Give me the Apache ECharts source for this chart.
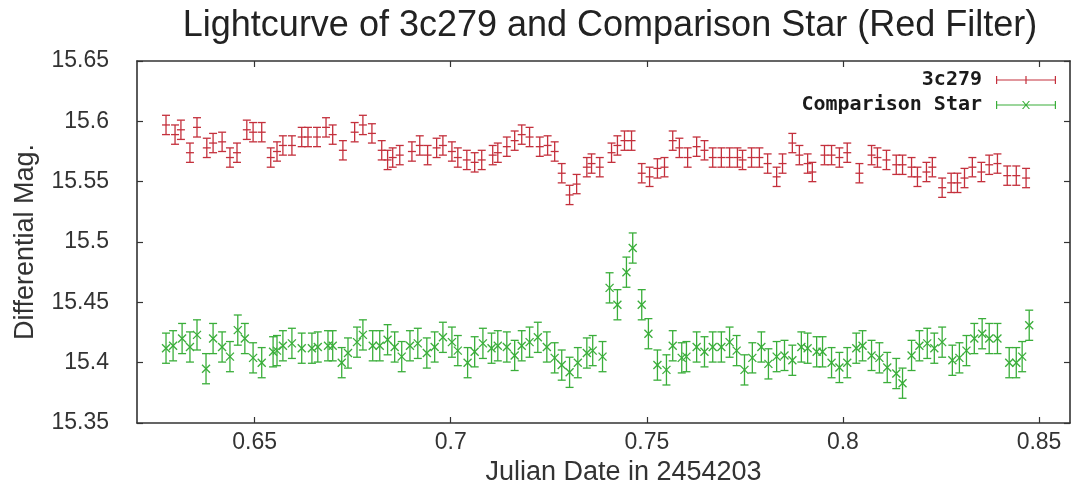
<!DOCTYPE html>
<html>
<head>
<meta charset="utf-8">
<title>Lightcurve of 3c279</title>
<script src="https://cdn.jsdelivr.net/npm/echarts@6/dist/echarts.min.js"></script>
<style>
  html, body { margin: 0; padding: 0; background: #fff; }
  #chart { width: 1072px; height: 492px; }
</style>
</head>
<body>
<div id="chart"></div>
<script>
// Julian date offsets (JD - 2454203) and differential magnitudes, 3c279
const blazarJD = [
  0.6274, 0.6297, 0.6312, 0.6335, 0.6353, 0.6378, 0.6394, 0.6417, 0.6437, 0.6455,
  0.6480, 0.6496, 0.6518, 0.6541, 0.6557, 0.6572, 0.6595, 0.6620, 0.6636, 0.6659,
  0.6682, 0.6699, 0.6725, 0.6755, 0.6776, 0.6799, 0.6824, 0.6839, 0.6852, 0.6870,
  0.6901, 0.6921, 0.6941, 0.6964, 0.6980, 0.7003, 0.7018, 0.7041, 0.7061, 0.7079,
  0.7107, 0.7120, 0.7143, 0.7163, 0.7181, 0.7201, 0.7227, 0.7247, 0.7265, 0.7283,
  0.7303, 0.7321, 0.7347, 0.7359, 0.7380, 0.7410, 0.7425, 0.7443, 0.7461, 0.7487,
  0.7507, 0.7527, 0.7545, 0.7566, 0.7583, 0.7604, 0.7627, 0.7647, 0.7668, 0.7690,
  0.7711, 0.7731, 0.7744, 0.7767, 0.7787, 0.7808, 0.7831, 0.7846, 0.7871, 0.7889,
  0.7910, 0.7922, 0.7953, 0.7971, 0.7991, 0.8011, 0.8042, 0.8073, 0.8088, 0.8111,
  0.8136, 0.8152, 0.8175, 0.8190, 0.8213, 0.8228, 0.8253, 0.8276, 0.8292, 0.8310,
  0.8330, 0.8353, 0.8373, 0.8394, 0.8419, 0.8442, 0.8467
];
const blazarMag = [
  15.597, 15.589, 15.593, 15.574, 15.595, 15.578, 15.582, 15.583, 15.570, 15.574,
  15.593, 15.591, 15.591, 15.570, 15.575, 15.580, 15.580, 15.587, 15.587, 15.587,
  15.595, 15.589, 15.576, 15.591, 15.597, 15.590, 15.576, 15.568, 15.570, 15.572,
  15.575, 15.580, 15.572, 15.578, 15.580, 15.575, 15.570, 15.568, 15.566, 15.568,
  15.572, 15.574, 15.579, 15.584, 15.589, 15.587, 15.579, 15.580, 15.575, 15.557,
  15.539, 15.548, 15.562, 15.565, 15.562, 15.574, 15.580, 15.584, 15.584, 15.557,
  15.554, 15.561, 15.562, 15.584, 15.578, 15.570, 15.579, 15.576, 15.570, 15.570,
  15.570, 15.570, 15.568, 15.570, 15.570, 15.565, 15.554, 15.565, 15.582, 15.572,
  15.565, 15.558, 15.572, 15.572, 15.570, 15.574, 15.557, 15.572, 15.570, 15.568,
  15.564, 15.564, 15.562, 15.554, 15.558, 15.562, 15.545, 15.549, 15.549, 15.553,
  15.562, 15.558, 15.564, 15.565, 15.555, 15.555, 15.553
];
const blazarErr = 0.008;

// Comparison star
const compJD = [
  0.6274, 0.6292, 0.6315, 0.6335, 0.6353, 0.6376, 0.6394, 0.6417, 0.6437, 0.6457,
  0.6475, 0.6496, 0.6518, 0.6547, 0.6557, 0.6572, 0.6595, 0.6620, 0.6646, 0.6661,
  0.6687, 0.6699, 0.6722, 0.6738, 0.6761, 0.6776, 0.6801, 0.6819, 0.6839, 0.6857,
  0.6875, 0.6896, 0.6916, 0.6939, 0.6959, 0.6980, 0.7003, 0.7018, 0.7043, 0.7061,
  0.7082, 0.7104, 0.7120, 0.7143, 0.7163, 0.7181, 0.7201, 0.7222, 0.7245, 0.7265,
  0.7283, 0.7303, 0.7324, 0.7347, 0.7362, 0.7387, 0.7405, 0.7425, 0.7448, 0.7464,
  0.7487, 0.7504, 0.7527, 0.7550, 0.7566, 0.7589, 0.7601, 0.7627, 0.7647, 0.7668,
  0.7690, 0.7711, 0.7729, 0.7749, 0.7769, 0.7792, 0.7810, 0.7831, 0.7851, 0.7871,
  0.7894, 0.7910, 0.7933, 0.7948, 0.7971, 0.7991, 0.8011, 0.8034, 0.8050, 0.8073,
  0.8093, 0.8113, 0.8136, 0.8152, 0.8175, 0.8195, 0.8215, 0.8233, 0.8253, 0.8279,
  0.8297, 0.8315, 0.8335, 0.8355, 0.8373, 0.8394, 0.8424, 0.8442, 0.8457, 0.8475
];
const compMag = [
  15.412, 15.414, 15.420, 15.413, 15.423, 15.395, 15.420, 15.413, 15.405, 15.427,
  15.420, 15.404, 15.400, 15.409, 15.410, 15.414, 15.416, 15.412, 15.412, 15.413,
  15.414, 15.414, 15.400, 15.408, 15.417, 15.423, 15.414, 15.414, 15.419, 15.413,
  15.405, 15.414, 15.416, 15.408, 15.413, 15.421, 15.417, 15.410, 15.400, 15.409,
  15.416, 15.412, 15.414, 15.413, 15.406, 15.414, 15.417, 15.421, 15.413, 15.404,
  15.398, 15.392, 15.400, 15.408, 15.410, 15.405, 15.462, 15.448, 15.475, 15.495,
  15.448, 15.424, 15.398, 15.394, 15.414, 15.404, 15.405, 15.413, 15.409, 15.413,
  15.413, 15.417, 15.410, 15.394, 15.404, 15.413, 15.399, 15.405, 15.406, 15.402,
  15.413, 15.412, 15.409, 15.409, 15.400, 15.396, 15.400, 15.412, 15.414, 15.406,
  15.404, 15.396, 15.391, 15.383, 15.406, 15.414, 15.416, 15.412, 15.417, 15.402,
  15.404, 15.410, 15.420, 15.424, 15.420, 15.420, 15.400, 15.400, 15.405, 15.431
];
const compErr = 0.0125;

// Axis ticks
const xTickValues = [0.65, 0.7, 0.75, 0.8, 0.85];
const yMin = 15.35, yMax = 15.65, yStep = 0.05;

const RED = '#c4303c';
const GREEN = '#3aae3a';

function pairs(xs, ys) {
  return xs.map((x, i) => [x, ys[i]]);
}

// y-error bars with caps plus a point marker ('+' or 'x')
function errorBarRenderer(err, marker) {
  return function (params, api) {
    const x = api.value(0), y = api.value(1);
    const c = api.coord([x, y]);
    const hi = api.coord([x, y + err]);
    const lo = api.coord([x, y - err]);
    const cap = 4, m = 4;
    const style = { stroke: api.visual('color'), lineWidth: 1.3, fill: null };
    const seg = (x1, y1, x2, y2) => ({ type: 'line', shape: { x1, y1, x2, y2 }, style });
    const kids = [
      seg(c[0], hi[1], c[0], lo[1]),
      seg(c[0] - cap, hi[1], c[0] + cap, hi[1]),
      seg(c[0] - cap, lo[1], c[0] + cap, lo[1])
    ];
    if (marker === 'plus') {
      kids.push(seg(c[0] - m, c[1], c[0] + m, c[1]));
    } else {
      kids.push(seg(c[0] - m, c[1] - m, c[0] + m, c[1] + m));
      kids.push(seg(c[0] - m, c[1] + m, c[0] + m, c[1] - m));
    }
    return { type: 'group', children: kids };
  };
}

const plusIcon = 'path://M0,3.4h60v1.2h-60z M0,0h1.2v8h-1.2z M58.8,0h1.2v8h-1.2z M29.4,0h1.2v8h-1.2z';
const crossIcon = 'path://M0,3.4h60v1.2h-60z M0,0h1.2v8h-1.2z M58.8,0h1.2v8h-1.2z M26,0L27.3,0L34,8L32.7,8z M32.7,0L34,0L27.3,8L26,8z';

const frame = { show: true, lineStyle: { color: '#333', width: 1.6 } };
const tickStyle = { inside: true, length: 6, lineStyle: { color: '#333', width: 1.2 } };
const fmt = v => String(parseFloat(Number(v).toFixed(3)));
const labelFont = { fontFamily: 'Liberation Sans', fontSize: 23, color: '#333' };
const nameFont = { fontFamily: 'Liberation Sans', fontSize: 27, color: '#333' };

const chart = echarts.init(document.getElementById('chart'), null, { renderer: 'canvas' });
chart.setOption({
  animation: false,
  backgroundColor: '#fff',
  title: {
    text: 'Lightcurve of 3c279 and Comparison Star (Red Filter)',
    left: 605,
    top: 3,
    textAlign: 'center',
    textStyle: { fontFamily: 'Liberation Sans', fontSize: 36, fontWeight: 'normal', color: '#222' }
  },
  legend: {
    orient: 'vertical',
    align: 'right',
    right: 11,
    top: 65,
    itemWidth: 60,
    itemHeight: 8,
    itemGap: 5,
    selectedMode: false,
    textStyle: { fontFamily: 'DejaVu Sans Mono', fontWeight: 'bold', fontSize: 20, color: '#1a1a1a', padding: [0, 9, 0, 0] },
    data: [
      { name: '3c279', icon: plusIcon },
      { name: 'Comparison Star', icon: crossIcon }
    ]
  },
  grid: { left: 137, right: 2, top: 61, bottom: 69, containLabel: false },
  xAxis: [
    {
      type: 'value', position: 'bottom', min: 0.62, max: 0.8579,
      splitLine: { show: false }, axisLine: frame,
      axisTick: Object.assign({ customValues: xTickValues }, tickStyle),
      axisLabel: Object.assign({ customValues: xTickValues, formatter: fmt, margin: 8 }, labelFont),
      name: 'Julian Date in 2454203', nameLocation: 'middle', nameGap: 33,
      nameTextStyle: Object.assign({ padding: [0, 0, 0, 40] }, nameFont)
    },
    {
      type: 'value', position: 'top', min: 0.62, max: 0.8579,
      splitLine: { show: false }, axisLine: frame,
      axisTick: Object.assign({ customValues: xTickValues }, tickStyle),
      axisLabel: { show: false }
    }
  ],
  yAxis: [
    {
      type: 'value', position: 'left', min: yMin, max: yMax, interval: yStep,
      splitLine: { show: false }, axisLine: frame, axisTick: tickStyle,
      axisLabel: Object.assign({ formatter: fmt, margin: 28 }, labelFont),
      name: 'Differential Mag.', nameLocation: 'middle', nameGap: 98, nameRotate: 90,
      nameTextStyle: nameFont
    },
    {
      type: 'value', position: 'right', min: yMin, max: yMax, interval: yStep,
      splitLine: { show: false }, axisLine: frame, axisTick: tickStyle,
      axisLabel: { show: false }
    }
  ],
  series: [
    {
      name: '3c279', type: 'custom', xAxisIndex: 0, yAxisIndex: 0,
      itemStyle: { color: RED },
      renderItem: errorBarRenderer(blazarErr, 'plus'),
      data: pairs(blazarJD, blazarMag), clip: true
    },
    {
      name: 'Comparison Star', type: 'custom', xAxisIndex: 0, yAxisIndex: 0,
      itemStyle: { color: GREEN },
      renderItem: errorBarRenderer(compErr, 'cross'),
      data: pairs(compJD, compMag), clip: true
    }
  ]
});
</script>
</body>
</html>
